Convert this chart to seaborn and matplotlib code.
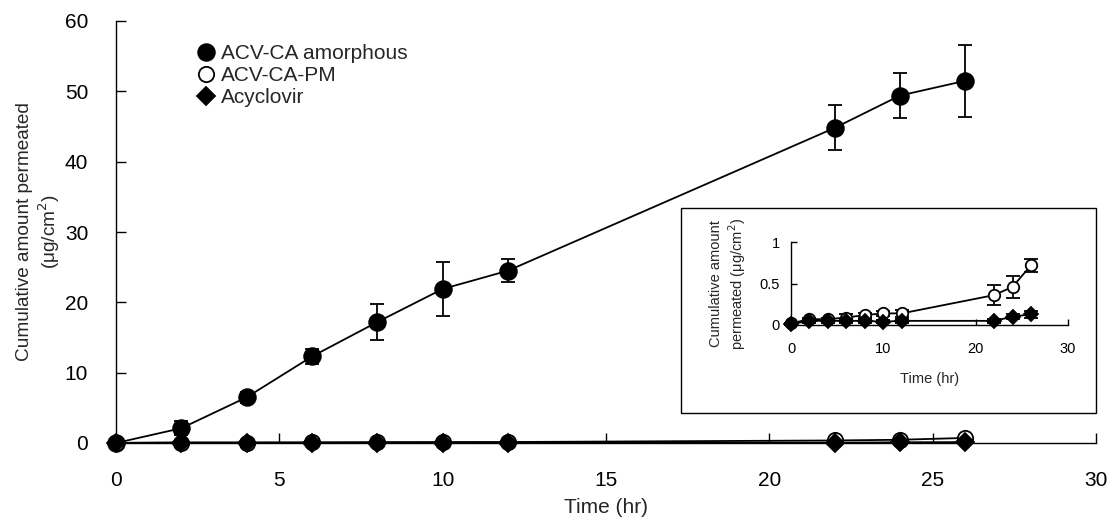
import matplotlib
matplotlib.use("Agg")
import matplotlib.pyplot as plt
from matplotlib.lines import Line2D
from matplotlib.patches import Rectangle
import seaborn as sns

time_hr = [0, 2, 4, 6, 8, 10, 12, 22, 24, 26]
amorphous = [0.0, 2.1, 6.5, 12.3, 17.2, 21.9, 24.5, 44.8, 49.4, 51.5]
amorphous_err = [0.2, 1.0, 0.8, 1.0, 2.5, 3.9, 1.6, 3.2, 3.2, 5.1]
pm = [0.02, 0.07, 0.07, 0.09, 0.12, 0.14, 0.14, 0.36, 0.46, 0.72]
pm_err = [0.01, 0.02, 0.02, 0.04, 0.03, 0.03, 0.04, 0.12, 0.13, 0.08]
acv = [0.01, 0.05, 0.05, 0.05, 0.05, 0.04, 0.05, 0.05, 0.10, 0.13]
acv_err = [0.01, 0.02, 0.02, 0.02, 0.02, 0.02, 0.02, 0.02, 0.03, 0.04]
labels = ["ACV-CA amorphous", "ACV-CA-PM", "Acyclovir"]

sns.set_theme(style="ticks")
plt.rcParams["font.family"] = ["Liberation Sans", "DejaVu Sans"]

fig = plt.figure(figsize=(11.1, 5.24), dpi=100)
ax = fig.add_axes([116 / 1110, 81 / 524, (1096 - 116) / 1110, (443 - 21) / 524])

styles = [
    dict(marker="o", mfc="black", ms=12),
    dict(marker="o", mfc="white", ms=11),
    dict(marker="D", mfc="black", ms=9.5),
]
series = [(amorphous, amorphous_err), (pm, pm_err), (acv, acv_err)]


def draw(axis, data, stys, scale=1.0, lw=1.3, cap=5):
    for (vals, errs), st in zip(data, stys):
        axis.errorbar(time_hr, vals, yerr=errs, fmt="none", ecolor="black",
                      elinewidth=lw, capsize=cap, capthick=lw, zorder=2, clip_on=False)
        sns.lineplot(x=time_hr, y=vals, ax=axis, color="black", linewidth=lw,
                     marker=st["marker"], markerfacecolor=st["mfc"],
                     markeredgecolor="black", markeredgewidth=1.3,
                     markersize=st["ms"] * scale, zorder=3, clip_on=False,
                     legend=False)


draw(ax, series, styles)
ax.set_xlim(0, 30)
ax.set_ylim(0, 60)
ax.set_xticks(range(0, 31, 5))
ax.set_yticks(range(0, 61, 10))
ax.tick_params(direction="in", length=7, width=1, labelsize=15, colors="black")
ax.tick_params(axis="x", pad=20)
ax.tick_params(axis="y", pad=20)
for s in ["top", "right"]:
    ax.spines[s].set_visible(False)
for s in ["left", "bottom"]:
    ax.spines[s].set_color("black")
    ax.spines[s].set_linewidth(1)
ax.set_xlabel("Time (hr)", fontsize=15, labelpad=6)
ax.set_ylabel("Cumulative amount permeated\n(μg/cm$^2$)", fontsize=13.7, labelpad=2)

handles = [Line2D([], [], linestyle="none", marker=st["marker"], markerfacecolor=st["mfc"],
                  markeredgecolor="black", markeredgewidth=1.3, markersize=st["ms"])
           for st in styles]
ax.legend(handles, labels, loc="upper left", bbox_to_anchor=(0.062, 0.99), frameon=False,
          fontsize=15, handletextpad=0.2, labelspacing=0.15, handlelength=1.0)

# inset frame
fig.add_artist(Rectangle((681 / 1110, (524 - 413) / 524), 415 / 1110, 205 / 524,
                         transform=fig.transFigure, fill=False, edgecolor="black", lw=1))

ins = fig.add_axes([791 / 1110, (524 - 325) / 524, (1068 - 791) / 1110, (325 - 242) / 524])
ins.patch.set_alpha(0)
draw(ins, [series[1], series[2]], [styles[1], styles[2]], scale=0.75, lw=1.3, cap=5)
ins.set_xlim(0, 30)
ins.set_ylim(0, 1)
ins.set_xticks([0, 10, 20, 30])
ins.set_yticks([0, 0.5, 1])
ins.set_yticklabels(["0", "0.5", "1"])
ins.tick_params(direction="in", length=4, width=1, labelsize=10.5, colors="black")
ins.tick_params(axis="x", pad=12)
ins.tick_params(axis="y", pad=8)
for s in ["top", "right"]:
    ins.spines[s].set_visible(False)
for s in ["left", "bottom"]:
    ins.spines[s].set_color("black")
    ins.spines[s].set_linewidth(1)
ins.set_xlabel("Time (hr)", fontsize=10.5, labelpad=12)
ins.set_ylabel("Cumulative amount\npermeated (μg/cm$^2$)", fontsize=10.5, labelpad=8)

fig.savefig("out.png", dpi=100)
